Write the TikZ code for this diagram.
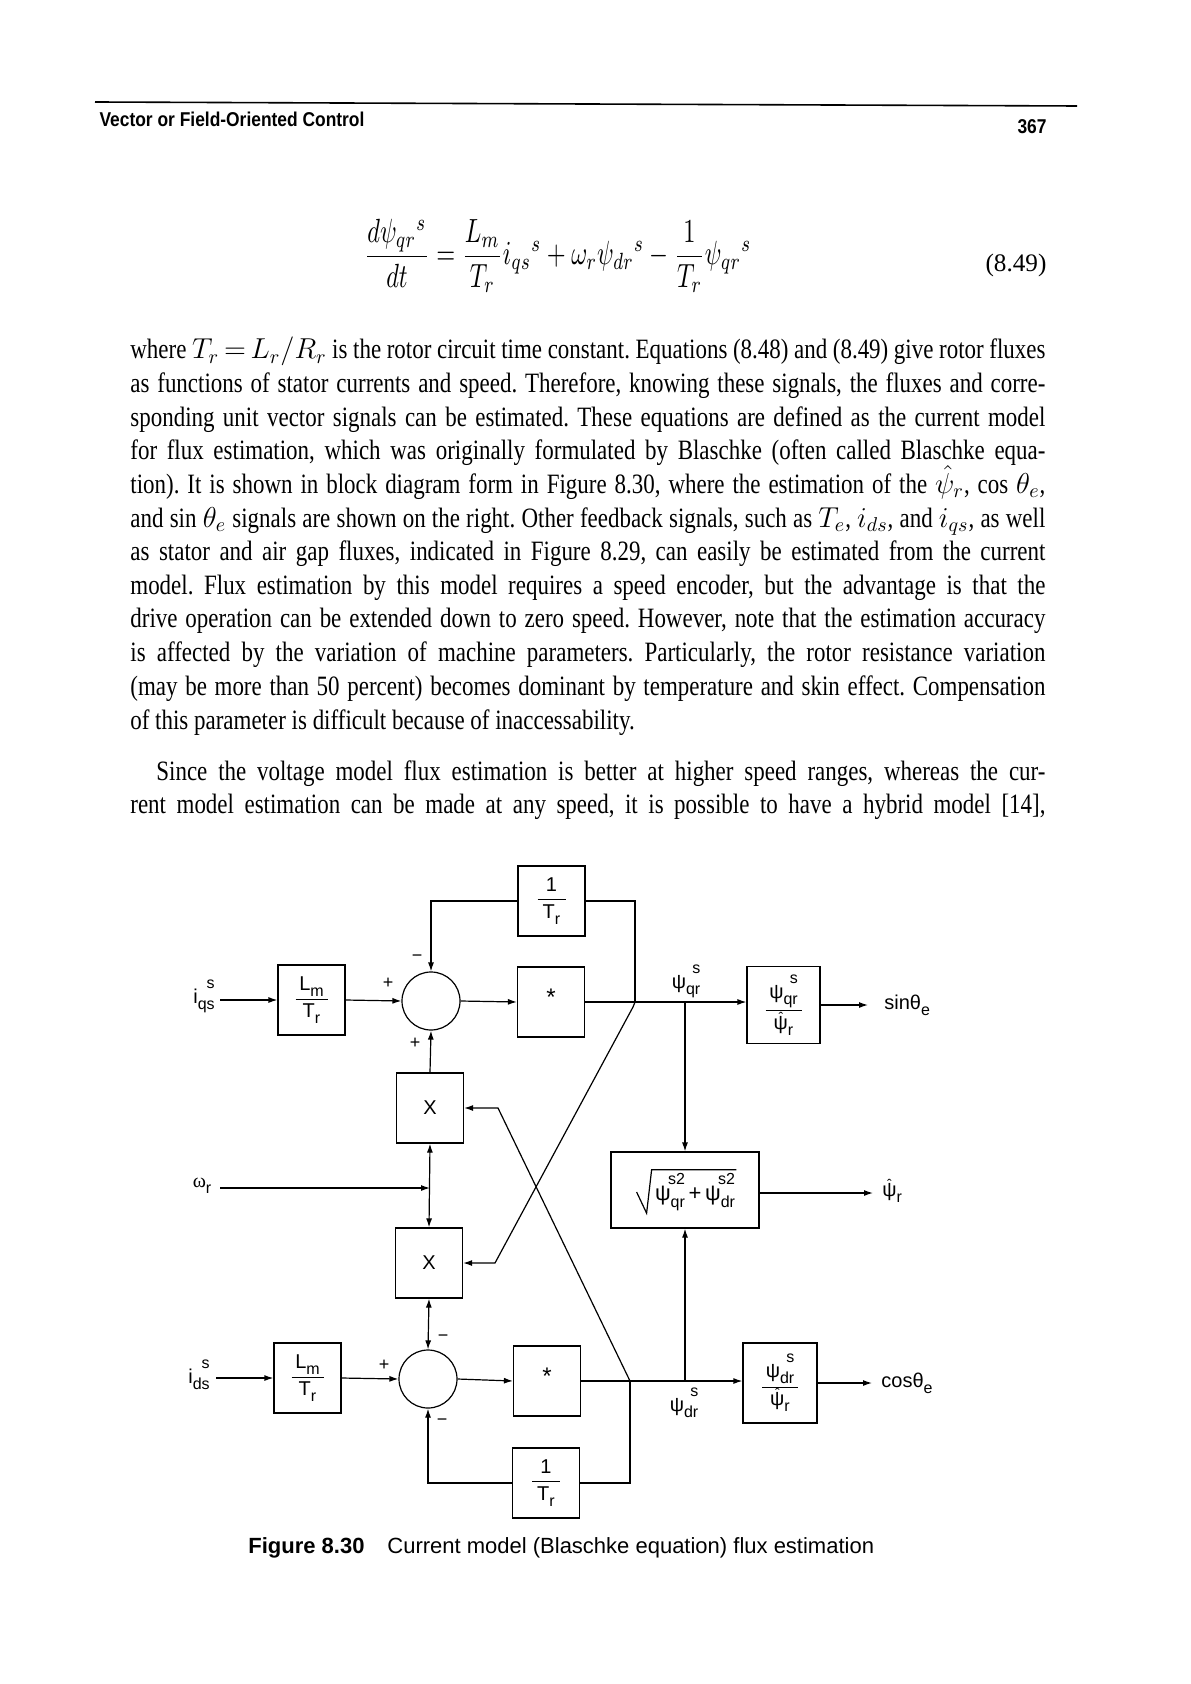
\documentclass[tikz,border=0pt]{standalone}
\usepackage{fontspec}
\usepackage{graphicx}
\usetikzlibrary{arrows.meta,calc}
\setmainfont{Liberation Serif}
\newfontfamily\dgfont{Liberation Sans}
\newfontfamily\bodyfont[FakeStretch=0.82]{Liberation Serif}
\newfontfamily\serifg{Liberation Serif}
\newcommand{\SubSup}[2]{\raisebox{-0.3em}{\footnotesize #1}\llap{\raisebox{0.75em}{\footnotesize #2}}}
\newcommand{\Sub}[1]{\raisebox{-0.3em}{\footnotesize #1}}
\newcommand{\psh}{\ooalign{ψ\cr\hidewidth\raisebox{0.35em}{\scriptsize ˆ}\hidewidth\cr}}
\newcommand{\frc}[3]{$\displaystyle\frac{\hbox to #1{\hfil #2\hfil}}{\hbox to #1{\hfil #3\hfil}}$}
\newcommand{\jl}[1]{\makebox[457.5pt][s]{#1}}
\frenchspacing
\begin{document}
\begin{tikzpicture}[x=0.5pt,y=-0.5pt,
  blk/.style={draw, line width=0.6pt, inner sep=0pt, minimum width=33.5pt, minimum height=35pt, font=\dgfont\fontsize{10}{12}\selectfont},
  sumc/.style={draw, circle, line width=0.6pt, minimum size=29pt, inner sep=0pt},
  wire/.style={line width=0.6pt},
  arr/.style={wire, -{Latex[length=4.5pt,width=3pt]}},
  dbl/.style={wire, {Latex[length=4.5pt,width=3pt]}-{Latex[length=4.5pt,width=3pt]}},
  sgn/.style={font=\dgfont\fontsize{9}{10}\selectfont, inner sep=0pt},
  lbl/.style={font=\dgfont\fontsize{10}{12}\selectfont, inner sep=0pt},
  bodyl/.style={anchor=base west, inner sep=0pt, font=\bodyfont\fontsize{14}{17}\selectfont}]
\useasboundingbox (0,0) rectangle (1190,1684);
% header
\draw[line width=0.8pt] (95,102) -- (1077,106);
\node[inner sep=0pt] (hdr) at (232,119) {\scalebox{0.87}[1]{\dgfont\bfseries\fontsize{10}{12}\selectfont Vector or Field-Oriented Control}};
\node[inner sep=0pt] (pg) at (1032,127) {\scalebox{0.87}[1]{\dgfont\bfseries\fontsize{10}{12}\selectfont 367}};
% equation
\node[inner sep=0pt] (eq) at (558,256) {\resizebox*{193.5pt}{37pt}{$\displaystyle \frac{d\psi_{qr}{}^{s}}{dt}=\frac{L_m}{T_r}i_{qs}{}^{s}+\omega_r\psi_{dr}{}^{s}-\frac{1}{T_r}\psi_{qr}{}^{s}$}};
\node[inner sep=0pt] (eqn) at (1016,265) {\serifg\fontsize{12.6}{15}\selectfont (8.49)};
% body text
\node[bodyl] (l1) at (130,359) {\jl{where $T_r\,{=}\,L_r/R_r$ is the rotor circuit time constant. Equations (8.48) and (8.49) give rotor fluxes}};
\node[bodyl] (l2) at (130,392.6) {\jl{as functions of stator currents and speed. Therefore, knowing these signals, the fluxes and corre-}};
\node[bodyl] (l3) at (130,426.2) {\jl{sponding unit vector signals can be estimated. These equations are defined as the current model}};
\node[bodyl] (l4) at (130,459.8) {\jl{for flux estimation, which was originally formulated by Blaschke (often called Blaschke equa-}};
\node[bodyl] (l5) at (130,493.4) {\jl{tion). It is shown in block diagram form in Figure 8.30, where the estimation of the $\hat{\psi}_r$, cos $\theta_e$,}};
\node[bodyl] (l6) at (130,527) {\jl{and sin $\theta_e$ signals are shown on the right. Other feedback signals, such as $T_e$, $i_{ds}$, and $i_{qs}$, as well}};
\node[bodyl] (l7) at (130,560.6) {\jl{as stator and air gap fluxes, indicated in Figure 8.29, can easily be estimated from the current}};
\node[bodyl] (l8) at (130,594.2) {\jl{model. Flux estimation by this model requires a speed encoder, but the advantage is that the}};
\node[bodyl] (l9) at (130,627.8) {\jl{drive operation can be extended down to zero speed. However, note that the estimation accuracy}};
\node[bodyl] (l10) at (130,661.4) {\jl{is affected by the variation of machine parameters. Particularly, the rotor resistance variation}};
\node[bodyl] (l11) at (130,695) {\jl{(may be more than 50 percent) becomes dominant by temperature and skin effect. Compensation}};
\node[bodyl] (l12) at (130,729) {of this parameter is difficult because of inaccessability.};
\node[bodyl] (l13) at (156,780) {\makebox[444.5pt][s]{Since the voltage model flux estimation is better at higher speed ranges, whereas the cur-}};
\node[bodyl] (l14) at (130,813) {\jl{rent model estimation can be made at any speed, it is possible to have a hybrid model [14],}};
% diagram blocks
\node[blk] (T1) at (551.5,901) {\frc{14pt}{1}{T\Sub{r}}};
\node[blk] (LmA) at (311.5,1000) {\frc{16pt}{L\Sub{m}}{T\Sub{r}}};
\node[sumc] (S1) at (431,1001) {};
\node[blk] (StarA) at (551,1002) {\raisebox{0.5em}{\large *}};
\node[blk] (XA) at (430,1108) {X};
\node[blk] (XB) at (429,1263) {X};
\node[sumc] (S2) at (428,1379) {};
\node[blk] (LmB) at (307.5,1378) {\frc{16pt}{L\Sub{m}}{T\Sub{r}}};
\node[blk] (StarB) at (547,1381) {\raisebox{0.5em}{\large *}};
\node[blk] (T2) at (546,1483) {\frc{14pt}{1}{T\Sub{r}}};
\node[blk, minimum width=36.5pt, minimum height=38.5pt] (SinBox) at (783.5,1005) {\frc{18pt}{ψ\SubSup{qr}{s}}{\psh\Sub{r}}};
\node[blk, minimum width=74pt, minimum height=38pt] (SqrtBox) at (685,1190) {};
\node[blk, minimum width=37pt, minimum height=40pt] (CosBox) at (780,1383) {\frc{18pt}{ψ\SubSup{dr}{s}}{\psh\Sub{r}}};
% sqrt content
\node[lbl, font=\dgfont\fontsize{11}{13}\selectfont] (sqt) at (695,1192) {ψ\SubSup{qr}{s2}\,+\,ψ\SubSup{dr}{s2}};
\draw[wire] ($(sqt.west)+(-18,0)$) -- ($(sqt.south west)+(-8,2)$) -- ($(sqt.north west)+(-3,-3)$) -- ($(sqt.north east)+(1,-3)$);
% labels
\node[lbl] (iqs) at (204,996) {i\SubSup{qs}{s}};
\node[lbl] (ids) at (199,1375) {i\SubSup{ds}{s}};
\node[lbl] (wr) at (202,1186) {{\serifg ω}\Sub{r}};
\node[lbl, anchor=west] (sin) at (884,1005) {sinθ\Sub{e}};
\node[lbl, anchor=west] (psr) at (882,1193) {\psh\Sub{r}};
\node[lbl, anchor=west] (cos) at (881,1383) {cosθ\Sub{e}};
\node[lbl] (pqr) at (686,981) {ψ\SubSup{qr}{s}};
\node[lbl] (pdr) at (684,1403) {ψ\SubSup{dr}{s}};
% signs
\node[sgn] (s1a) at (388,983) {+};
\node[sgn] (s1b) at (417,958) {−};
\node[sgn] (s1c) at (415,1043) {+};
\node[sgn] (s2a) at (384,1365) {+};
\node[sgn] (s2b) at (443,1338) {−};
\node[sgn] (s2c) at (442,1422) {−};
% coordinates
\coordinate (iqsS) at (220,1000);
\coordinate (idsS) at (216,1378);
\coordinate (wS) at (220,1188);
\coordinate (J1) at (635,1002);
\coordinate (J2) at (630,1381);
\coordinate (ca) at (498,1108);
\coordinate (cb) at (495,1263);
\coordinate (sinE) at (868,1005);
\coordinate (psE) at (873,1193);
\coordinate (cosE) at (872,1383);
% connectors upper
\draw[arr] (iqsS) -- (LmA.west);
\draw[arr] (LmA.east) -- (S1.west);
\draw[arr] (S1.east) -- (StarA.west);
\draw[arr] (StarA.east) -- (StarA.east -| SinBox.west);
\draw[arr] (T1.west) -| (S1.north);
\draw[wire] (T1.east) -| (J1);
\draw[arr] (SqrtBox.north |- StarA.east) -- (SqrtBox.north);
\draw[arr] (SinBox.east) -- (sinE);
\draw[arr] (SqrtBox.east |- psE) -- (psE);
\draw[arr] (XA.north) -- (S1.south);
\draw[arr] (wS) -- (wS -| XA.south);
\draw[dbl] (XA.south) -- (XB.north);
\draw[arr] (J2) -- (ca) -- (XA.east);
\draw[arr] (J1) -- ++(-2,5) -- (cb) -- (XB.east);
% connectors lower
\draw[arr] (idsS) -- (LmB.west);
\draw[arr] (LmB.east) -- (S2.west);
\draw[arr] (S2.east) -- (StarB.west);
\draw[arr] (StarB.east) -- (StarB.east -| CosBox.west);
\draw[dbl] (XB.south) -- (S2.north);
\draw[arr] (T2.west) -| (S2.south);
\draw[wire] (T2.east) -| (J2);
\draw[arr] (SqrtBox.south |- StarB.east) -- (SqrtBox.south);
\draw[arr] (CosBox.east) -- (cosE);
% caption
\node[inner sep=0pt, anchor=base west] (capb) at (248,1553) {\dgfont\bfseries\fontsize{11}{13}\selectfont Figure 8.30};
\node[inner sep=0pt, anchor=base west] (capt) at (387,1553) {\dgfont\fontsize{11}{13}\selectfont Current model (Blaschke equation) flux estimation};
\end{tikzpicture}
\end{document}
